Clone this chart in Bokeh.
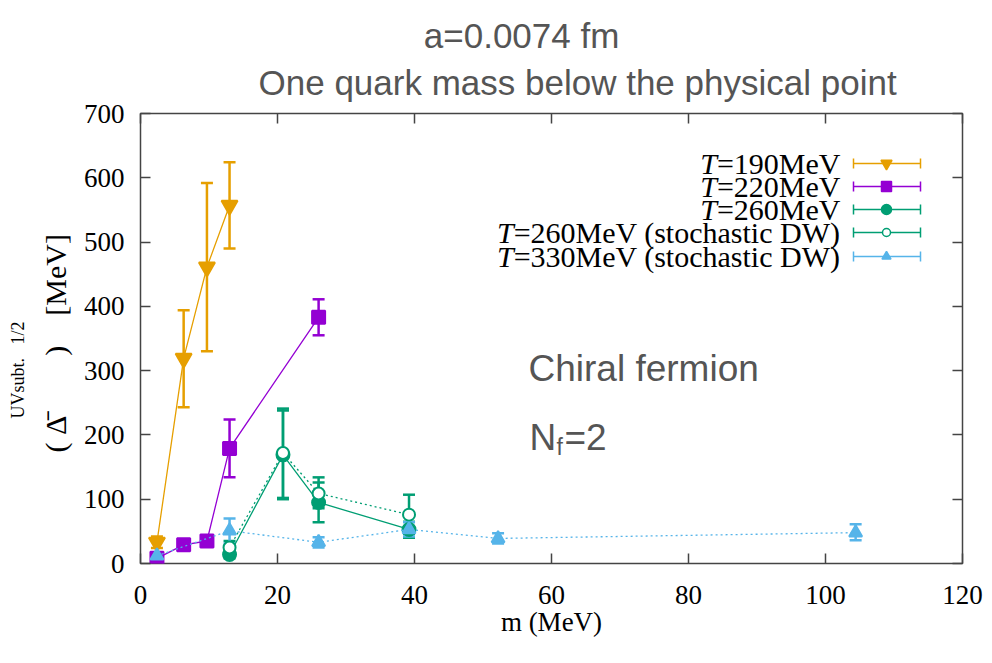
from bokeh.plotting import figure
from bokeh.models import (Range1d, LinearAxis, Whisker, TeeHead, ColumnDataSource,
                          Label, FixedTicker, CustomJSTickFormatter, Title)
from bokeh.embed import file_html
from bokeh.resources import INLINE

# ---------------- data ----------------
m190 = [2.4, 6.3, 9.7, 13.0]
v190 = [33, 319, 461, 557]
lo190 = [24, 243, 330, 490]
hi190 = [42, 394, 592, 624]

m220 = [2.4, 6.3, 9.7, 13.0, 26.0]
v220 = [8, 29, 35, 179, 383]
lo220 = [4, 25, 31, 134, 355]
hi220 = [12, 33, 39, 224, 411]

m260 = [13.0, 20.8, 26.0, 39.2]
v260 = [14, 169, 95, 53]
lo260 = [8, 100, 64, 40]
hi260 = [20, 241, 126, 65]

m260s = [13.0, 20.8, 26.0, 39.2]
v260s = [25, 172, 109, 76]
lo260s = [15, 102, 86, 46]
hi260s = [35, 238, 134, 107]

m330s = [2.4, 13.0, 26.0, 39.2, 52.2, 104.4]
v330s = [12, 51, 33, 53, 39, 48]
lo330s = [7, 31, 25, 42, 31, 36]
hi330s = [17, 70, 41, 64, 47, 61]

x_ticks = [0, 20, 40, 60, 80, 100, 120]
y_ticks = [0, 100, 200, 300, 400, 500, 600, 700]

labels = ["=190MeV", "=220MeV", "=260MeV", "=260MeV (stochastic DW)", "=330MeV (stochastic DW)"]

C_OR = "#e69f00"
C_PU = "#9400d3"
C_GR = "#009e73"
C_BL = "#56b4e9"
GRAY = "#555555"
SERIF = "Liberation Serif"
SANS = "Liberation Sans"
NB = "\u00a0"

# ---------------- layout constants (canvas px) ----------------
W, H = 990, 660
FL, FR, FT, FB = 140, 28, 113, 97
XMIN, XMAX, YMIN, YMAX = 0, 120, 0, 700
FW = W - FL - FR
FH = H - FT - FB


def px2x(px):  # canvas px -> data x
    return XMIN + (px - FL) / FW * (XMAX - XMIN)


def py2y(py):
    return YMAX - (py - FT) / FH * (YMAX - YMIN)


p = figure(width=W, height=H, output_backend="svg", toolbar_location=None,
           x_range=Range1d(XMIN, XMAX), y_range=Range1d(YMIN, YMAX),
           min_border_left=FL, min_border_right=FR, min_border_top=FT,
           min_border_bottom=FB, x_axis_location=None, y_axis_location=None)
p.grid.visible = False
p.outline_line_color = "#444444"
p.outline_line_width = 1.5
p.background_fill_color = "white"
p.border_fill_color = "white"


def make_axis(ticks, show_labels, standoff):
    ax = LinearAxis(ticker=FixedTicker(ticks=ticks))
    ax.major_tick_in = 10
    ax.major_tick_out = 0
    ax.minor_tick_line_color = None
    ax.axis_line_color = None
    ax.major_tick_line_color = "#444444"
    ax.major_tick_line_width = 1.5
    ax.major_label_text_font = SERIF
    ax.major_label_text_font_size = "27px"
    ax.major_label_text_color = "black"
    ax.major_label_standoff = standoff
    if not show_labels:
        ax.formatter = CustomJSTickFormatter(code="return ''")
    return ax


xax = make_axis(x_ticks, True, 22)
xax.axis_label = "m (MeV)"
xax.axis_label_text_font = SERIF
xax.axis_label_text_font_size = "27px"
xax.axis_label_text_font_style = "normal"
xax.axis_label_text_color = "black"
xax.axis_label_standoff = 0
p.add_layout(xax, "below")
p.add_layout(make_axis(y_ticks, True, 16), "left")
p.add_layout(make_axis(x_ticks, False, 0), "above")
p.add_layout(make_axis(y_ticks, False, 0), "right")

# two-line title, the first line indented with non-breaking spaces
title_lines = [NB * 17 + "a=0.0074 fm", "One quark mass below the physical point"]
p.add_layout(Title(text="\n".join(title_lines), align="left",
                   text_font=SANS, text_font_size="35px", text_color=GRAY,
                   text_font_style="normal", text_line_height=1.22,
                   offset=118, standoff=22), "above")

# y-axis label: main line and raised (superscript) line, both vertical
p.add_layout(Title(text="(" + NB + "Δ̄" + NB * 8 + ")" + NB * 4 + "[MeV]", align="left",
                   text_font=SERIF, text_font_size="30px", text_color="black",
                   text_font_style="normal", offset=111, standoff=18), "left")
p.add_layout(Title(text="UVsubt." + NB * 3 + "1/2", align="left",
                   text_font=SERIF, text_font_size="18px", text_color="black",
                   text_font_style="normal", offset=145, standoff=0), "left")


# ---------------- series ----------------
def series(ms, vs, lo, hi, color, marker, size, dash, fill=True):
    p.line(ms, vs, line_color=color, line_width=1.3, line_dash=dash)
    src = ColumnDataSource(dict(x=ms, lo=lo, hi=hi))
    p.add_layout(Whisker(source=src, base="x", lower="lo", upper="hi", dimension="height",
                         line_color=color, line_width=2.5,
                         upper_head=TeeHead(size=12, line_color=color, line_width=2.5),
                         lower_head=TeeHead(size=12, line_color=color, line_width=2.5)))
    p.scatter(ms, vs, marker=marker, size=size, line_color=color, line_width=2,
              fill_color=color if fill else "white")


series(m190, v190, lo190, hi190, C_OR, "inverted_triangle", 16, "solid")
series(m220, v220, lo220, hi220, C_PU, "square", 13, "solid")
series(m260, v260, lo260, hi260, C_GR, "circle", 13, "solid")
series(m260s, v260s, lo260s, hi260s, C_GR, "circle", 12, "2 3", fill=False)
series(m330s, v330s, lo330s, hi330s, C_BL, "triangle", 13, "2 3")

# ---------------- legend (gnuplot style: text then sample) ----------------
leg_rows_py = [163, 186, 209, 232, 256]
leg_cols = [(C_OR, "inverted_triangle", 11, True), (C_PU, "square", 10, True),
            (C_GR, "circle", 10, True), (C_GR, "circle", 8, False), (C_BL, "triangle", 9, True)]
TIMES_W = {'=': .564, ' ': .25, '(': .333, ')': .333, 'M': .889, 'e': .444, 'V': .722,
           's': .389, 't': .278, 'o': .5, 'c': .444, 'h': .5, 'a': .444, 'i': .278,
           'D': .722, 'W': .944}
LFS = 30
text_right_px = 840
for (py, lab, (col, mk, sz, fill)) in zip(leg_rows_py, labels, leg_cols):
    yy = py2y(py)
    x0, x1, xm = px2x(853), px2x(920), px2x(886)
    p.segment([x0], [yy], [x1], [yy], line_color=col, line_width=1.5)
    cap = (py2y(py - 5) - yy)
    p.segment([x0, x1], [yy - cap, yy - cap], [x0, x1], [yy + cap, yy + cap],
              line_color=col, line_width=1.5)
    p.scatter([xm], [yy], marker=mk, size=sz, line_color=col, line_width=1.5,
              fill_color=col if fill else "white")
    wid = sum(TIMES_W.get(ch, 0.5) for ch in lab) * LFS
    p.add_layout(Label(x=px2x(text_right_px), y=yy, text=lab, text_align="right",
                       text_baseline="middle", text_font=SERIF,
                       text_font_size=f"{LFS}px", text_color="black"))
    p.add_layout(Label(x=px2x(text_right_px - wid), y=yy, text="T", text_align="right",
                       text_baseline="middle", text_font=SERIF, text_font_style="italic",
                       text_font_size=f"{LFS}px", text_color="black"))

# ---------------- annotations inside frame ----------------
p.add_layout(Label(x=px2x(528), y=py2y(368), text="Chiral fermion", text_align="left",
                   text_baseline="middle", text_font=SANS, text_font_size="37px",
                   text_color=GRAY))
p.add_layout(Label(x=px2x(529), y=py2y(437), text="N", text_align="left",
                   text_baseline="middle", text_font=SANS, text_font_size="37px",
                   text_color=GRAY))
p.add_layout(Label(x=px2x(556), y=py2y(446), text="f", text_align="left",
                   text_baseline="middle", text_font=SANS, text_font_size="23px",
                   text_color=GRAY))
p.add_layout(Label(x=px2x(564), y=py2y(437), text="=2", text_align="left",
                   text_baseline="middle", text_font=SANS, text_font_size="37px",
                   text_color=GRAY))

open("out.html", "w").write(file_html(p, INLINE))
